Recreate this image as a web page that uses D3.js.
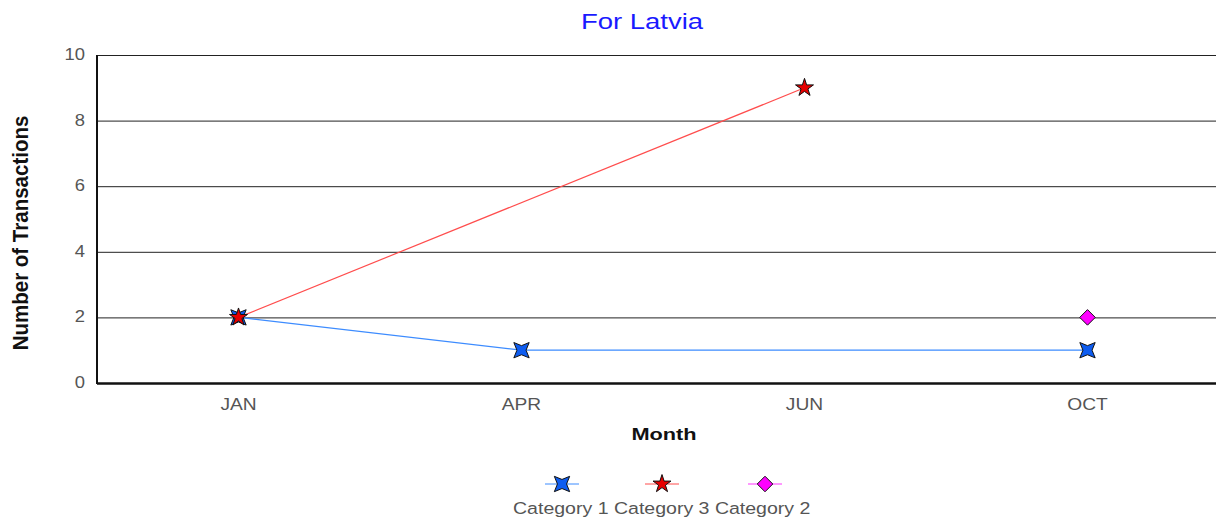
<!DOCTYPE html>
<meta charset="utf-8">
<style>
    body { margin: 0; background: #fff; }
    text { font-family: "Liberation Sans", Arial, sans-serif; }
</style>
<body>
<script src="https://cdn.jsdelivr.net/npm/d3@7"></script>
<script>

    var months = ["JAN", "APR", "JUN", "OCT"];
    var yTicks = [0, 2, 4, 6, 8, 10];
    var cat1 = [2, 1, null, 1];
    var cat3 = [2, null, 9, null];
    var cat2 = [null, null, null, 2];

    var width = 1216, height = 524;
    var mLeft = 97, mTop = 55, mBottom = 383;

    var svg = d3.select("body").append("svg")
        .attr("width", width)
        .attr("height", height);

    var x = d3.scaleBand().domain(months).range([mLeft, mLeft + 4 * 283]);
    var y = d3.scaleLinear().domain([0, 10]).range([mBottom, mTop]);
    var cx = function(m) { return x(m) + x.bandwidth() / 2; };

    // text that is a bit wider than the font, like the original
    function label(px, py, tf, txt) {
        return svg.append("g")
            .attr("transform", "translate(" + px + "," + py + ") " + tf)
            .append("text").text(txt);
    }

    // grid
    svg.append("g").selectAll("line")
        .data(yTicks.filter(function(d) { return d > 0; }))
        .enter().append("line")
        .attr("x1", mLeft).attr("x2", width)
        .attr("y1", function(d) { return y(d) + 0.5; })
        .attr("y2", function(d) { return y(d) + 0.5; })
        .style("stroke", "#222").style("stroke-width", 1);

    // axes
    svg.append("line").attr("x1", mLeft).attr("x2", mLeft).attr("y1", mTop).attr("y2", mBottom + 1)
        .style("stroke", "#111").style("stroke-width", 2);
    svg.append("line").attr("x1", mLeft).attr("x2", width).attr("y1", mBottom + 0.5).attr("y2", mBottom + 0.5)
        .style("stroke", "#111").style("stroke-width", 2.5);

    yTicks.forEach(function(d) {
        label(mLeft - 12, y(d) + 5, "scale(1.15,1)", d)
            .attr("text-anchor", "end")
            .style("font-size", "16px").style("fill", "#555");
    });

    months.forEach(function(m) {
        label(cx(m), 410, "scale(1.2,1)", m)
            .attr("text-anchor", "middle")
            .style("font-size", "16px").style("fill", "#555");
    });

    label(642, 29, "scale(1.25,1)", "For Latvia")
        .attr("text-anchor", "middle")
        .style("font-size", "22px").style("fill", "#1a1aff");
    label(664, 440, "scale(1.28,1)", "Month")
        .attr("text-anchor", "middle")
        .style("font-size", "17px").style("font-weight", "bold").style("fill", "#111");
    label(28, 233, "rotate(-90) scale(1.08,1.2)", "Number of Transactions")
        .attr("text-anchor", "middle")
        .style("font-size", "19px").style("font-weight", "bold").style("fill", "#111");

    // 4-point star symbol
    var star4 = {
        draw: function(ctx, size) {
            var r = Math.sqrt(size) * 0.7, ri = r * 0.42;
            for (var i = 0; i < 8; i++) {
                var a = Math.PI / 4 + i * Math.PI / 4;
                var rr = i % 2 === 0 ? r : ri;
                var px = rr * Math.cos(a), py = rr * Math.sin(a);
                if (i === 0) ctx.moveTo(px, py); else ctx.lineTo(px, py);
            }
            ctx.closePath();
        }
    };
    // square diamond
    var diamond = {
        draw: function(ctx, size) {
            var r = Math.sqrt(size) * 0.55;
            ctx.moveTo(0, -r); ctx.lineTo(r, 0); ctx.lineTo(0, r); ctx.lineTo(-r, 0);
            ctx.closePath();
        }
    };

    var series = [
        { name: "Category 1", values: cat1, color: "#3d8cff", fill: "#0d5cf0", sym: star4, size: 240 },
        { name: "Category 3", values: cat3, color: "#ff4d4d", fill: "#e60000", sym: d3.symbolStar, size: 100 },
        { name: "Category 2", values: cat2, color: "#ff33ff", fill: "#ff00ff", sym: diamond, size: 200 }
    ];

    var line = d3.line()
        .x(function(d) { return cx(d.m); })
        .y(function(d) { return y(d.v); });

    series.forEach(function(s) {
        var pts = months.map(function(m, i) { return { m: m, v: s.values[i] }; })
            .filter(function(d) { return d.v !== null; });
        svg.append("path").datum(pts)
            .attr("d", line)
            .style("fill", "none").style("stroke", s.color).style("stroke-width", 1.2);
        s.pts = pts;
    });

    series.forEach(function(s) {
        svg.append("g").selectAll("path")
            .data(s.pts).enter().append("path")
            .attr("transform", function(d) { return "translate(" + cx(d.m) + "," + y(d.v) + ")"; })
            .attr("d", d3.symbol().type(s.sym).size(s.size))
            .style("fill", s.fill).style("stroke", "#111").style("stroke-width", 1);
    });

    // legend
    var legX = [562, 662, 765];
    var leg = svg.append("g").selectAll("g")
        .data(series).enter().append("g")
        .attr("transform", function(d, i) { return "translate(" + legX[i] + ",484)"; });
    leg.append("line").attr("x1", -17).attr("x2", 17).attr("y1", 0).attr("y2", 0)
        .style("stroke", function(d) { return d.color; }).style("stroke-width", 1);
    leg.append("path")
        .attr("d", function(d) { return d3.symbol().type(d.sym).size(d.size)(); })
        .style("fill", function(d) { return d.fill; }).style("stroke", "#111").style("stroke-width", 1);

    label(513, 514, "scale(1.15,1)", series.map(function(d) { return d.name; }).join(" "))
        .style("font-size", "17px").style("fill", "#555");

</script>
</body>
